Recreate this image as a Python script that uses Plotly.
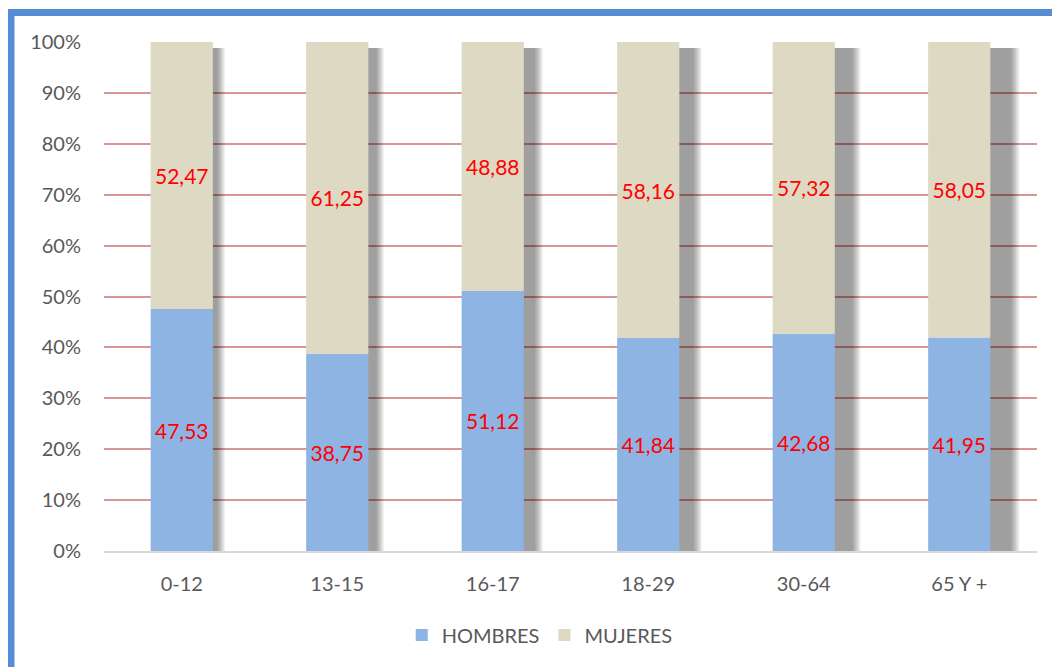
import plotly.graph_objects as go

GRUPOS = ["0-12", "13-15", "16-17", "18-29", "30-64", "65 Y +"]
HOMBRES = [47.53, 38.75, 51.12, 41.84, 42.68, 41.95]
MUJERES = [52.47, 61.25, 48.88, 58.16, 57.32, 58.05]
Y_TICKS = [0, 10, 20, 30, 40, 50, 60, 70, 80, 90, 100]

FONT = "Lato, 'Open Sans', sans-serif"
GRAY = "#595959"
PX_PER_CAT = 933 / 6
BODY = 8  # default page margin of the html body


def fmt(v):
    return f"{v:.2f}".replace(".", ",")


def main() -> None:
    totals = [h + m for h, m in zip(HOMBRES, MUJERES)]
    n = len(GRUPOS)
    fig = go.Figure()

    # soft perspective shadow, wider toward the right
    steps = 6
    for k in range(steps):
        f = k / (steps - 1)  # 0 = outer edge, 1 = dark core
        ext = [(12 + 3.4 * i) * (1 - f) + (5 + 3.2 * i) * f for i in range(n)]
        fig.add_trace(go.Bar(
            x=GRUPOS, y=[t - 1.2 for t in totals], base=0,
            offset=[0.19] * n, width=[0.01 + e / PX_PER_CAT for e in ext],
            marker=dict(color="rgba(0,0,0,0.075)", line=dict(width=0)),
            showlegend=False, hoverinfo="skip",
        ))

    for name, vals, base, color in [("HOMBRES", HOMBRES, 0, "#8EB4E3"),
                                    ("MUJERES", MUJERES, HOMBRES, "#DDD9C3")]:
        fig.add_trace(go.Bar(
            x=GRUPOS, y=vals, base=base, name=name,
            width=0.4, offset=-0.2,
            marker=dict(color=color, line=dict(width=0)),
            text=[fmt(v) for v in vals], textposition="inside",
            insidetextanchor="middle", constraintext="none", textangle=0,
            textfont=dict(color="#FF0000", size=21, family=FONT),
            hoverinfo="skip",
        ))

    fig.update_layout(
        width=1060, height=667,
        barmode="overlay",
        paper_bgcolor="white", plot_bgcolor="white",
        margin=dict(l=104 - BODY, r=23 + BODY, t=42 - BODY, b=116 + BODY, autoexpand=False),
        font=dict(family=FONT, size=20, color=GRAY),
        legend=dict(orientation="h", x=0.467, xanchor="center", y=-0.165, yanchor="middle",
                    font=dict(size=20, color=GRAY), traceorder="normal", itemwidth=30),
        xaxis=dict(type="category", showgrid=False, showline=True, linecolor="#D9D9D9",
                   linewidth=2, ticks="outside", ticklen=14, tickcolor="rgba(0,0,0,0)",
                   tickfont=dict(size=20, color=GRAY), range=[-0.5, n - 0.5]),
        yaxis=dict(range=[0, 100], tickvals=Y_TICKS, ticktext=[f"{v}%" for v in Y_TICKS],
                   showgrid=True, gridcolor="#DA9695", gridwidth=2, zeroline=False,
                   ticks="outside", ticklen=18, tickcolor="rgba(0,0,0,0)",
                   tickfont=dict(size=20, color=GRAY)),
        shapes=[dict(type="rect", xref="paper", yref="paper",
                     x0=(11 - 104) / 933, x1=1.2, y0=-0.5, y1=(551 - 12.5) / 509,
                     line=dict(color="#558ED5", width=7), layer="below")],
    )

    fig.write_html("out.html")


if __name__ == "__main__":
    main()
